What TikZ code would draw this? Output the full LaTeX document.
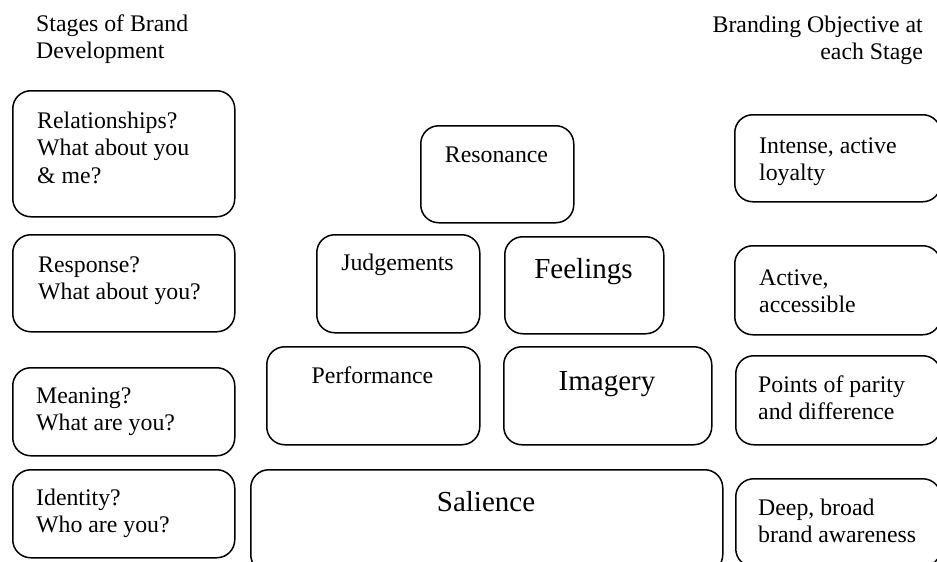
\documentclass[tikz,border=0pt]{standalone}
\usepackage{fontspec}
\setmainfont{Liberation Serif}

\begin{document}
\begin{tikzpicture}[x=1pt,y=-1pt,
    box/.style={draw, line width=1.5pt, rounded corners=18pt, anchor=north west, inner sep=0pt},
    txt/.style={font=\fontsize{23.8}{27.5}\selectfont, align=left, anchor=base west, inner sep=0pt},
    ctxt/.style={font=\fontsize{23.8}{27.5}\selectfont, anchor=base, inner sep=0pt},
    big/.style={font=\fontsize{29}{33}\selectfont, anchor=base, inner sep=0pt}]
    \useasboundingbox (0,0) rectangle (937,562);
    \clip (0,0) rectangle (937,562);
    % column heads (placed at the baseline of the last line)
    \node[txt] (lefthead) at (36,58.5) {Stages of Brand\\Development};
    \node[txt, align=right, anchor=base east] (righthead) at (923,59.5) {Branding Objective at\\each Stage};
    % stages
    \node[box, minimum width=222pt, minimum height=126pt] (relbox) at (12,90) {};
    \node[txt] (reltxt) at (37,183) {Relationships?\\What about you\\\& me?};
    \node[box, minimum width=222pt, minimum height=97pt] (respbox) at (12,234) {};
    \node[txt] (resptxt) at (38,299.5) {Response?\\What about you?};
    \node[box, minimum width=222pt, minimum height=88pt] (meanbox) at (12,367) {};
    \node[txt] (meantxt) at (36,430.5) {Meaning?\\What are you?};
    \node[box, minimum width=222pt, minimum height=88pt] (idbox) at (12,469) {};
    \node[txt] (idtxt) at (36,532.5) {Identity?\\Who are you?};
    % pyramid
    \node[box, minimum width=153pt, minimum height=97pt] (resonbox) at (420,125) {};
    \node[ctxt] (resontxt) at (496.5,162) {Resonance};
    \node[box, minimum width=163pt, minimum height=98pt] (judgbox) at (316,234) {};
    \node[ctxt] (judgtxt) at (397.5,270) {Judgements};
    \node[box, minimum width=159pt, minimum height=97pt] (feelbox) at (504,236) {};
    \node[big] (feeltxt) at (583.5,278) {Feelings};
    \node[box, minimum width=213pt, minimum height=98pt] (perfbox) at (266,346) {};
    \node[ctxt] (perftxt) at (372.5,383) {Performance};
    \node[box, minimum width=208pt, minimum height=98pt] (imagbox) at (503,346) {};
    \node[big] (imagtxt) at (607,390) {Imagery};
    \node[box, minimum width=472pt, minimum height=103pt] (salbox) at (250,469) {};
    \node[big] (saltxt) at (486,511) {Salience};
    % objectives
    \node[box, minimum width=206pt, minimum height=87pt] (loyalbox) at (734,114) {};
    \node[txt] (loyaltxt) at (759,180.5) {Intense, active\\loyalty};
    \node[box, minimum width=206pt, minimum height=89pt] (actbox) at (734,245) {};
    \node[txt] (acttxt) at (759,312.5) {Active,\\accessible};
    \node[box, minimum width=205pt, minimum height=89pt] (parbox) at (735,355) {};
    \node[txt] (partxt) at (758,419.5) {Points of parity\\and difference};
    \node[box, minimum width=205pt, minimum height=88pt] (awarebox) at (735,478) {};
    \node[txt] (awaretxt) at (758,542.5) {Deep, broad\\brand awareness};
\end{tikzpicture}
\end{document}
